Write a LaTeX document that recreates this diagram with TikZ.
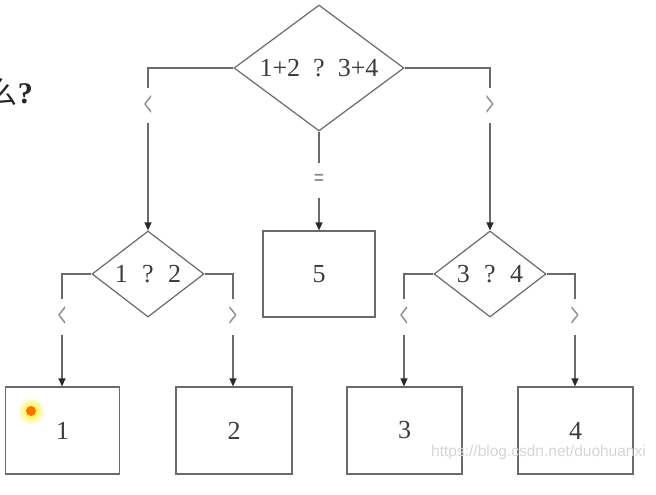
\documentclass[tikz,border=0pt]{standalone}
\usepackage{fontspec}
\setmainfont{Liberation Serif}
\newfontfamily\cjkfont{Noto Sans CJK SC}
\newfontfamily\wmfont{Liberation Sans}
\usetikzlibrary{shapes.geometric,arrows.meta}
\definecolor{linec}{HTML}{6A6A6A}
\definecolor{textc}{HTML}{3C3C3C}
\definecolor{lblc}{HTML}{8A8A8A}
\definecolor{tipc}{HTML}{2A2A2A}
\begin{document}
\begin{tikzpicture}[x=1pt,y=-1pt,
  dia/.style={diamond, draw=linec, line width=1.2pt, inner sep=0pt, text=textc, font=\fontsize{26}{30}\selectfont},
  boxnode/.style={rectangle, draw=linec, line width=1.2pt, inner sep=0pt, text=textc, font=\fontsize{26}{30}\selectfont},
  lbl/.style={inner sep=0pt, minimum height=35pt, text=lblc, font=\fontsize{26}{30}\selectfont\bfseries},
  conn/.style={draw=linec, line width=1.2pt},
  arr/.style={conn, -{Triangle[length=8pt,width=7pt,color=tipc]}}]
\useasboundingbox (0,0) rectangle (656,495);
\fill[white] (0,0) rectangle (656,495);

% partial heading text (cut off at the left edge, as in the reference)
\node[anchor=east, inner sep=0pt, text=black!85] (head) at (33,92)
  {{\cjkfont\fontsize{30}{34}\selectfont 么}{\fontsize{30}{34}\selectfont\bfseries ?}};

% decisions
\node[dia, aspect=1.35, minimum width=170pt, minimum height=126pt] (top) at (319,68)
  {1+2\hspace{0.5em}?\hspace{0.5em}3+4};
\node[dia, aspect=1.3, minimum width=112pt, minimum height=86pt] (d1) at (148,274)
  {1\hspace{0.55em}?\hspace{0.55em}2};
\node[dia, aspect=1.3, minimum width=112pt, minimum height=86pt] (d2) at (490,274)
  {3\hspace{0.55em}?\hspace{0.55em}4};

% boxes
\node[boxnode, minimum width=112pt, minimum height=86pt] (b5) at (319,274) {5};
\node[boxnode, minimum width=114pt, minimum height=87pt] (b1) at (62.5,430.5) {1};
\node[boxnode, minimum width=116pt, minimum height=87pt] (b2) at (234,430.5) {2};
\node[boxnode, minimum width=115pt, minimum height=87pt] (b3) at (404.5,430.5) {3};
\node[boxnode, minimum width=115pt, minimum height=87pt] (b4) at (575.5,430.5) {4};

% branch labels
\node[lbl] (lt) at (148,105.5) {\scalebox{0.55}[1.4]{<}};
\node[lbl] (rt) at (490,105.5) {\scalebox{0.55}[1.4]{>}};
\node[lbl] (eq) at (319,180.5) {\scalebox{0.7}[1]{=}};
\node[lbl] (l1) at (62,317) {\scalebox{0.55}[1.4]{<}};
\node[lbl] (r1) at (233,317) {\scalebox{0.55}[1.4]{>}};
\node[lbl] (l2) at (404,317) {\scalebox{0.55}[1.4]{<}};
\node[lbl] (r2) at (575,317) {\scalebox{0.55}[1.4]{>}};

% connectors
\draw[conn] (top.west) -| (lt.north);
\draw[arr] (lt.south) -- (d1.north);
\draw[conn] (top.east) -| (rt.north);
\draw[arr] (rt.south) -- (d2.north);
\draw[conn] (top.south) -- (eq.north);
\draw[arr] (eq.south) -- (b5.north);

\draw[conn] (d1.west) -| (l1.north);
\draw[arr] (l1.south) -- (l1.south |- b1.north);
\draw[conn] (d1.east) -| (r1.north);
\draw[arr] (r1.south) -- (r1.south |- b2.north);
\draw[conn] (d2.west) -| (l2.north);
\draw[arr] (l2.south) -- (l2.south |- b3.north);
\draw[conn] (d2.east) -| (r2.north);
\draw[arr] (r2.south) -- (r2.south |- b4.north);

% pointer highlight
\shade[inner color=yellow!85!orange, outer color=white] (31,411) circle (14);
\fill[orange!90!red] (31,411) circle (5);

% watermark
\node[anchor=east, inner sep=0pt, text=black!16, font=\wmfont\fontsize{15.5}{18}\selectfont] (wm) at (646,452) {https://blog.csdn.net/duohuanxi};
\end{tikzpicture}
\end{document}
